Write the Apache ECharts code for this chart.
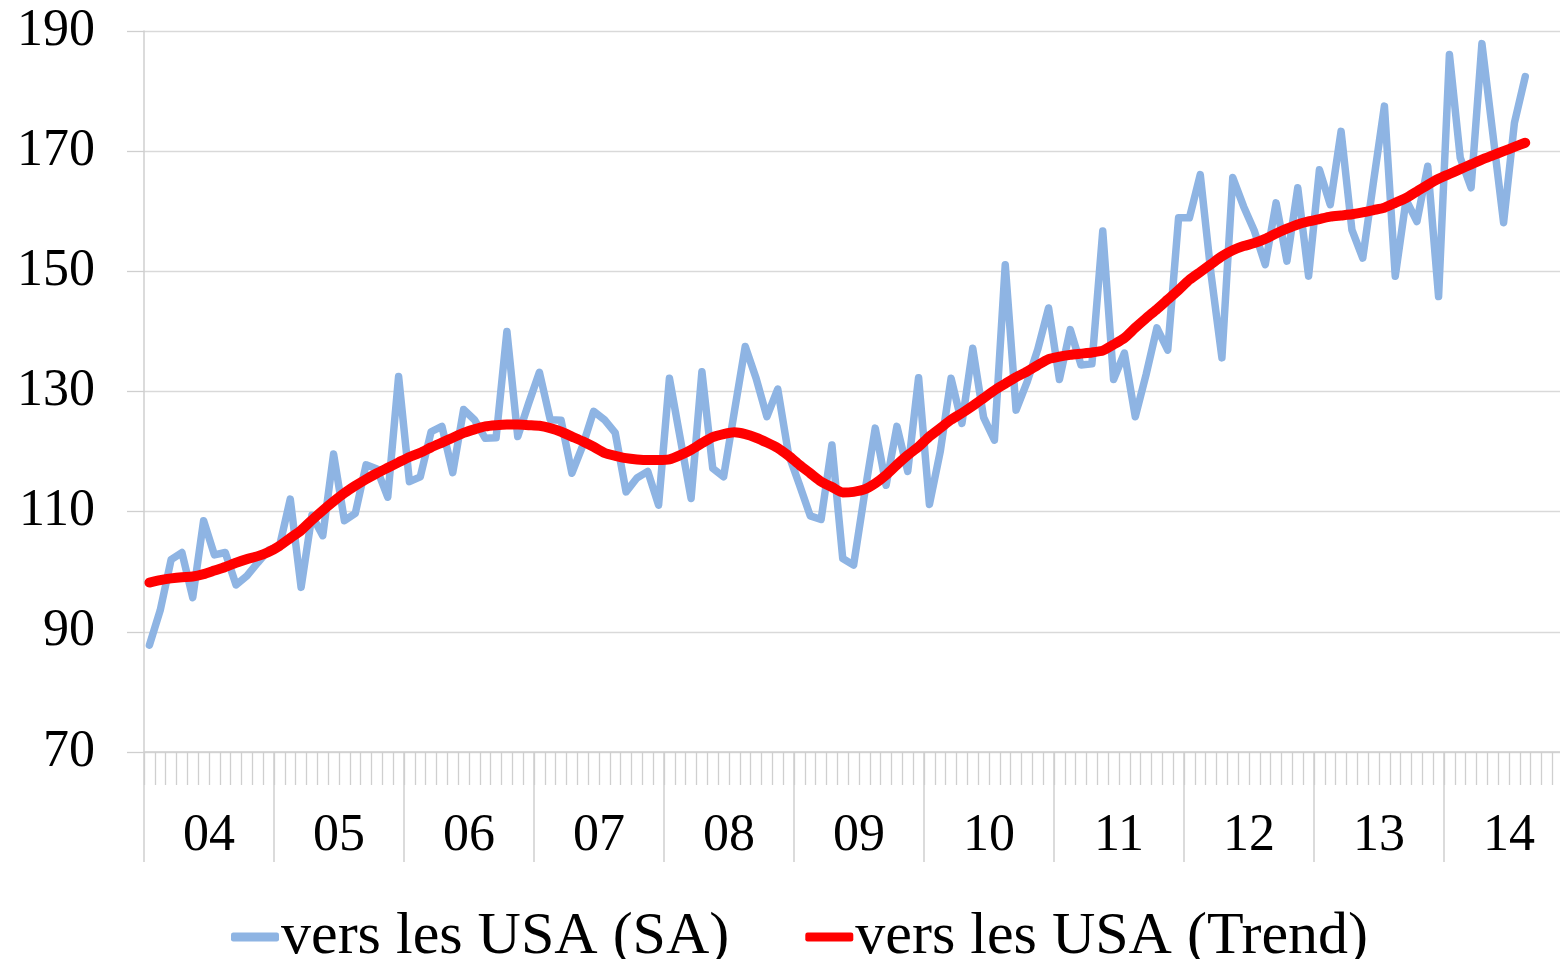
<!DOCTYPE html>
<html>
<head>
<meta charset="utf-8">
<script src="https://cdn.jsdelivr.net/npm/echarts@6/dist/echarts.min.js"></script>
<style>
  html, body { margin: 0; padding: 0; background: #fff; overflow: hidden; }
  #chart { width: 1574px; height: 959px; }
</style>
</head>
<body>
<div id="chart"></div>
<script>
// années affichées sous l'axe (12 mois chacune)
const years = ['04', '05', '06', '07', '08', '09', '10', '11', '12', '13', '14'];

// exportations vers les USA, données CVS (janv. 2004 -> août 2014)
const usaSA = [
  87.8, 93.6, 102, 103.2, 95.7, 108.5, 102.8, 103.2, 97.8, 99.3, 101.5, 103.6,
  104.2, 112.1, 97.4, 109.4, 106, 119.6, 108.5, 109.7, 117.8, 117.1, 112.4, 132.5,
  115, 115.8, 123.3, 124.2, 116.5, 127, 125.3, 122.2, 122.3, 140, 122.5, 128,
  133.2, 125.3, 125.2, 116.4, 121, 126.7, 125.3, 123.1, 113.3, 115.6, 116.7, 111.1,
  132.2, 122.2, 112.2, 133.3, 117.2, 115.8, 126.7, 137.5, 132.2, 125.8, 130.4, 119.5,
  114.5, 109.3, 108.7, 121.1, 102.2, 101.1, 112.8, 123.9, 114.4, 124.2, 116.7, 132.3,
  111.2, 120, 132.2, 124.7, 137.2, 125.7, 121.9, 151.1, 126.9, 131.5, 137, 143.9,
  132, 140.3, 134.4, 134.6, 156.7, 132, 136.4, 125.8, 132.8, 140.6, 136.9, 158.9,
  158.9, 166.1, 149.5, 135.6, 165.6, 160.8, 156.7, 151.1, 161.4, 151.7, 163.9, 149.2,
  166.9, 161.1, 173.3, 156.9, 152.2, 165, 177.5, 149.2, 161.9, 158.3, 167.5, 145.8,
  186.1, 168.9, 163.9, 187.9, 173, 158.1, 174.7, 182.4
];

// tendance
const usaTrend = [
  98.2, 98.6, 98.9, 99.1, 99.2, 99.6, 100.2, 100.8, 101.5, 102.1, 102.6, 103.3,
  104.3, 105.6, 106.9, 108.6, 110.2, 111.7, 113.1, 114.3, 115.4, 116.4, 117.3, 118.2,
  119.1, 119.8, 120.7, 121.5, 122.3, 123.1, 123.7, 124.2, 124.4, 124.5, 124.5, 124.4,
  124.3, 123.9, 123.3, 122.5, 121.7, 120.8, 119.8, 119.3, 118.9, 118.7, 118.6, 118.6,
  118.7, 119.4, 120.3, 121.4, 122.4, 122.9, 123.2, 122.9, 122.3, 121.5, 120.6, 119.3,
  117.8, 116.4, 115, 114.1, 113.2, 113.3, 113.7, 114.7, 116.1, 117.8, 119.4, 120.8,
  122.5, 123.9, 125.3, 126.4, 127.6, 128.9, 130.2, 131.3, 132.4, 133.3, 134.4, 135.4,
  135.8, 136.1, 136.3, 136.5, 136.8, 137.8, 138.9, 140.6, 142.2, 143.7, 145.3, 146.9,
  148.6, 149.9, 151.2, 152.5, 153.5, 154.2, 154.7, 155.4, 156.3, 157.1, 157.8, 158.3,
  158.7, 159.1, 159.3, 159.5, 159.8, 160.2, 160.6, 161.4, 162.2, 163.3, 164.4, 165.4,
  166.2, 167, 167.8, 168.6, 169.3, 170, 170.7, 171.4
];

// une catégorie par mois, 2004-01 à 2014-12
let months = [];
for (let y of years) {
    for (let m = 1; m <= 12; m++) {
        months.push('20' + y + '-' + (m < 10 ? '0' + m : m));
    }
}

const font = 'Liberation Serif, Times New Roman, serif';
const grey = '#cfcfcf';

let chart = echarts.init(document.getElementById('chart'));

let option = {
    animation: false,
    grid: {
        left: 144,
        top: 31,
        right: 0,
        bottom: 207
    },
    legend: {
        left: 226,
        top: 902,
        itemWidth: 48,
        itemHeight: 9,
        itemGap: 76,
        icon: 'roundRect',
        textStyle: {
            fontFamily: font,
            fontSize: 60,
            color: '#000',
            padding: [0, 0, 0, -3]
        },
        data: ['vers les USA (SA)', 'vers les USA (Trend)']
    },
    xAxis: [
        {
            type: 'category',
            data: months,
            boundaryGap: true,
            axisLine: { show: true, lineStyle: { color: grey, width: 1.5 } },
            axisTick: { show: true, interval: 0, length: 33, lineStyle: { color: grey, width: 1.3 } },
            axisLabel: { show: false },
            splitLine: { show: false }
        },
        {
            type: 'category',
            data: years,
            position: 'bottom',
            boundaryGap: true,
            axisLine: { show: false },
            axisTick: { show: true, interval: 0, length: 110, lineStyle: { color: grey, width: 1.5 } },
            axisLabel: {
                interval: 0,
                margin: 58,
                fontFamily: font,
                fontSize: 52,
                color: '#000'
            },
            splitLine: { show: false }
        }
    ],
    yAxis: {
        type: 'value',
        min: 70,
        max: 190,
        interval: 20,
        axisLine: { show: true, lineStyle: { color: grey, width: 1.5 } },
        axisTick: { show: true, length: 17, lineStyle: { color: grey, width: 1.3 } },
        axisLabel: {
            margin: 49,
            fontFamily: font,
            fontSize: 52,
            color: '#000'
        },
        splitLine: { show: true, lineStyle: { color: '#d9d9d9', width: 1.3 } }
    },
    series: [
        {
            name: 'vers les USA (SA)',
            type: 'line',
            xAxisIndex: 0,
            data: usaSA,
            showSymbol: false,
            itemStyle: { color: '#8EB4E3' },
            lineStyle: { color: '#8EB4E3', width: 7.5, cap: 'round', join: 'round' }
        },
        {
            name: 'vers les USA (Trend)',
            type: 'line',
            xAxisIndex: 0,
            data: usaTrend,
            showSymbol: false,
            smooth: 0.2,
            itemStyle: { color: '#FF0000' },
            lineStyle: { color: '#FF0000', width: 10, cap: 'round', join: 'round' }
        }
    ]
};

chart.setOption(option);
</script>
</body>
</html>
